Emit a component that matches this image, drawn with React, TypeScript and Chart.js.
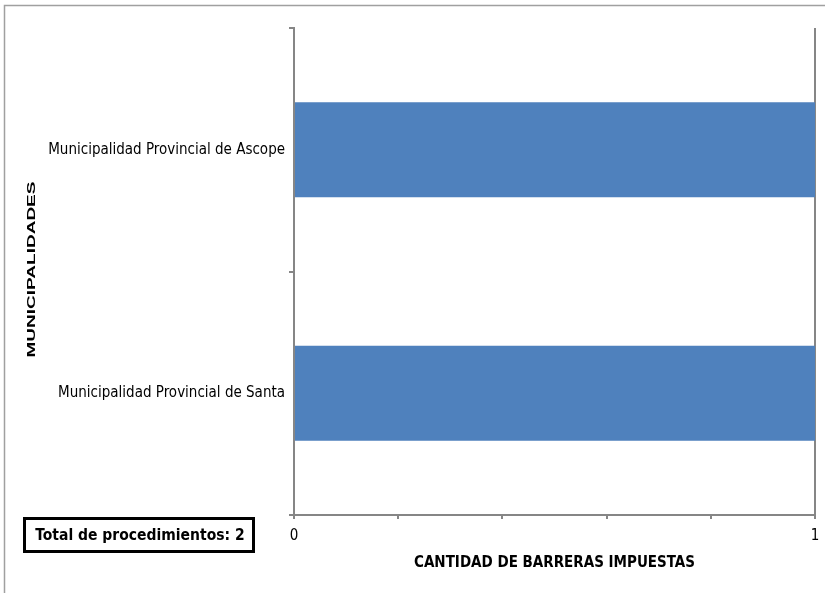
import React, { useEffect, useRef } from "react";
import { Chart, registerables } from "chart.js";

Chart.register(...registerables);

const categories = [
  "Municipalidad Provincial de Ascope",
  "Municipalidad Provincial de Santa",
];
const barrierCounts = [1, 1];
const xTickLabels: Record<string, string> = { "0": "0", "1": "1" };
const totalLabel = "Total de procedimientos: 2";
const xTitle = "CANTIDAD DE BARRERAS IMPUESTAS";
const yTitle = "MUNICIPALIDADES";

const NARROW = "'Liberation Sans Narrow', 'Arial Narrow', 'DejaVu Sans Condensed', Arial, sans-serif";
const AXIS = "#868686";

export default function App() {
  const ref = useRef<HTMLCanvasElement | null>(null);

  useEffect(() => {
    if (!ref.current) return;
    const framePlugin = {
      id: "frame",
      beforeDraw(chart: any) {
        const ctx = chart.ctx;
        ctx.save();
        ctx.fillStyle = "#ffffff";
        ctx.fillRect(0, 0, chart.width, chart.height);
        ctx.strokeStyle = "#a0a0a0";
        ctx.lineWidth = 1.5;
        ctx.beginPath();
        ctx.moveTo(4.5, chart.height);
        ctx.lineTo(4.5, 5.5);
        ctx.lineTo(chart.width, 5.5);
        ctx.stroke();
        ctx.restore();
      },
      afterDraw(chart: any) {
        const ctx = chart.ctx;
        ctx.save();
        ctx.fillStyle = "#ffffff";
        ctx.fillRect(24, 518, 230, 34);
        ctx.strokeStyle = "#000000";
        ctx.lineWidth = 3;
        ctx.strokeRect(24.5, 518.5, 229, 33);
        ctx.fillStyle = "#000000";
        ctx.font = `bold 15.5px ${NARROW}`;
        ctx.textAlign = "center";
        ctx.textBaseline = "middle";
        ctx.fillText(totalLabel, 140, 536);
        ctx.restore();

        // vertical axis title (horizontally condensed, as in the reference)
        const area = chart.chartArea;
        ctx.save();
        ctx.translate(32, (area.top + area.bottom) / 2 - 2);
        ctx.scale(0.6, 1);
        ctx.rotate(-Math.PI / 2);
        ctx.fillStyle = "#000000";
        ctx.font = "bold 19px 'Liberation Sans', Arial, sans-serif";
        ctx.textAlign = "center";
        ctx.textBaseline = "middle";
        ctx.fillText(yTitle, 0, 0);
        ctx.restore();
      },
    };

    const chart = new Chart(ref.current, {
      type: "bar",
      data: {
        labels: categories,
        datasets: [
          {
            data: barrierCounts,
            backgroundColor: "#4F81BD",
            borderWidth: 0,
            categoryPercentage: 1,
            barPercentage: 0.39,
          },
        ],
      },
      options: {
        indexAxis: "y",
        animation: false,
        responsive: true,
        maintainAspectRatio: false,
        layout: { padding: { top: 28, right: 10, left: 0, bottom: 0 } },
        plugins: {
          legend: { display: false },
          tooltip: { enabled: false },
        },
        scales: {
          x: {
            min: 0,
            max: 1,
            ticks: {
              stepSize: 0.2,
              autoSkip: false,
              maxRotation: 0,
              color: "#000000",
              font: { family: NARROW, size: 15 },
              padding: 8,
              callback: (v: any) => {
                const key = String(Math.round(Number(v) * 100) / 100);
                return xTickLabels[key] ?? "";
              },
            },
            grid: {
              drawOnChartArea: true,
              color: (c: any) => (c.tick && c.tick.value === 1 ? AXIS : "rgba(0,0,0,0)"),
              tickColor: AXIS,
              tickLength: 4,
              lineWidth: 2,
            },
            border: { display: true, color: AXIS, width: 2 },
            title: {
              display: true,
              text: xTitle,
              color: "#000000",
              font: { family: NARROW, size: 15, weight: "bold" },
              padding: { top: 0, bottom: 21 },
            },
            afterFit: (scale: any) => {
              scale.height = 78;
              scale.paddingRight = 0;
              scale.paddingLeft = 0;
            },
          },
          y: {
            ticks: {
              color: "#000000",
              font: { family: NARROW, size: 15 },
              padding: 4,
            },
            grid: {
              offset: true,
              drawOnChartArea: false,
              tickColor: AXIS,
              tickLength: 5,
              lineWidth: 2,
            },
            border: { display: true, color: AXIS, width: 2 },
            title: { display: false },
            afterFit: (scale: any) => {
              scale.width = 294;
              scale.paddingTop = 0;
              scale.paddingBottom = 0;
            },
          },
        },
      },
      plugins: [framePlugin],
    } as any);

    return () => chart.destroy();
  }, []);

  return (
    <div style={{ position: "absolute", left: 0, top: 0, width: 825, height: 593 }}>
      <canvas ref={ref} />
    </div>
  );
}
